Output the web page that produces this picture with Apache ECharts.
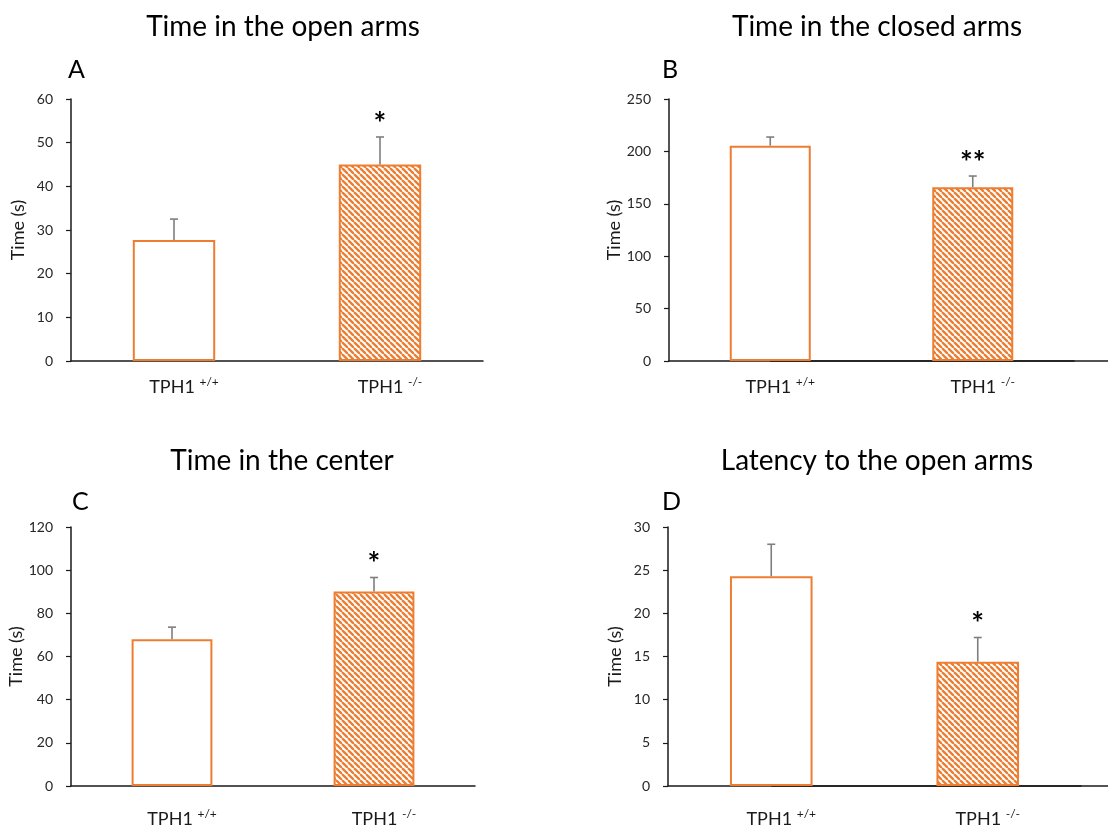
<!DOCTYPE html>
<html>
<head>
<meta charset="utf-8">
<title>Elevated plus maze</title>
<script src="https://cdn.jsdelivr.net/npm/echarts@6/dist/echarts.min.js"></script>
<style>
  html, body { margin: 0; padding: 0; background: #fff; }
  #chart { width: 1109px; height: 828px; }
</style>
</head>
<body>
<div id="chart"></div>
<script>
// Genotypes shown on every x axis
const genotypes = ['TPH1 +/+', 'TPH1 -/-'];

// Panel A: time in the open arms (s)
const openArmsMean = [27.7, 45.0];
const openArmsErr = [4.8, 6.3];
const openArmsStars = ['', '*'];

// Panel B: time in the closed arms (s)
const closedArmsMean = [205.5, 165.7];
const closedArmsErr = [8.2, 10.8];
const closedArmsStars = ['', '**'];

// Panel C: time in the center (s)
const centerMean = [68.0, 90.1];
const centerErr = [5.6, 6.5];
const centerStars = ['', '*'];

// Panel D: latency to the open arms (s)
const latencyMean = [24.3, 14.4];
const latencyErr = [3.7, 2.8];
const latencyStars = ['', '*'];

// Y axis ranges: [max, step]
const yRanges = [[60, 10], [250, 50], [120, 20], [30, 5]];
const panelTitles = ['Time in the open arms', 'Time in the closed arms', 'Time in the center', 'Latency to the open arms'];
const panelLetters = ['A', 'B', 'C', 'D'];

const ORANGE = '#ED7D31';
const FONT = 'Lato, "Open Sans", sans-serif';

// Diagonal hatch tile for the knockout bars
function hatchTile() {
  const s = 6;
  const c = document.createElement('canvas');
  c.width = s; c.height = s;
  const g = c.getContext('2d');
  g.fillStyle = '#fff';
  g.fillRect(0, 0, s, s);
  g.strokeStyle = ORANGE;
  g.lineWidth = 2.3;
  for (let k = -1; k <= 1; k++) {
    g.beginPath();
    g.moveTo(k * s, 0);
    g.lineTo(k * s + s, s);
    g.stroke();
  }
  return c;
}
const hatch = { image: hatchTile(), repeat: 'repeat' };

const panels = [
  { mean: openArmsMean, err: openArmsErr, stars: openArmsStars },
  { mean: closedArmsMean, err: closedArmsErr, stars: closedArmsStars },
  { mean: centerMean, err: centerErr, stars: centerStars },
  { mean: latencyMean, err: latencyErr, stars: latencyStars }
];

const grids = [
  { left: 71, right: 626, top: 99, bottom: 467 },
  { left: 669, right: 35, top: 99, bottom: 467 },
  { left: 71, right: 634, top: 527, bottom: 40 },
  { left: 668, right: 28, top: 527, bottom: 40 }
];
const xLabelMargin = [15, 15, 22, 22];

// Genotype name centred under the bar, allele superscript hanging to the right
function genotypeLabel(v) {
  const parts = v.split(' ');
  return '{b|' + parts[0] + ' }{s|' + parts[1] + '}';
}

const xAxes = grids.map((g, i) => ({
  type: 'category',
  gridIndex: i,
  data: genotypes,
  axisLine: { lineStyle: { color: '#1a1a1a', width: 1.5 } },
  axisTick: { show: false },
  axisLabel: {
    margin: xLabelMargin[i],
    formatter: genotypeLabel,
    rich: {
      b: { fontFamily: FONT, fontSize: 18, color: '#1a1a1a', padding: [0, 0, 0, 20] },
      s: { fontFamily: FONT, fontSize: 12, color: '#1a1a1a', padding: [0, 0, 10, 0] }
    }
  }
}));

const yAxes = grids.map((g, i) => ({
  type: 'value',
  gridIndex: i,
  min: 0,
  max: yRanges[i][0],
  interval: yRanges[i][1],
  name: 'Time (s)',
  nameLocation: 'middle',
  nameGap: 44,
  nameTextStyle: { fontFamily: FONT, fontSize: 18, color: '#1a1a1a' },
  axisLine: { show: true, lineStyle: { color: '#1a1a1a', width: 1.5 } },
  axisTick: { show: true, length: 5, lineStyle: { color: '#1a1a1a', width: 1.2 } },
  axisLabel: { margin: 18, fontFamily: FONT, fontSize: 14, color: '#262626' },
  splitLine: { show: false }
}));

const series = [];
panels.forEach((p, i) => {
  series.push({
    type: 'bar',
    xAxisIndex: i,
    yAxisIndex: i,
    barWidth: '40%',
    data: p.mean.map((v, j) => ({
      value: v,
      itemStyle: {
        color: j === 0 ? '#fff' : hatch,
        borderColor: ORANGE,
        borderWidth: 2
      }
    })),
    z: 2
  });
  series.push({
    type: 'custom',
    xAxisIndex: i,
    yAxisIndex: i,
    z: 3,
    data: p.mean.map((v, j) => [j, v, p.err[j]]),
    renderItem: function (params, api) {
      const j = api.value(0);
      const m = api.value(1);
      const e = api.value(2);
      const base = api.coord([j, m]);
      const top = api.coord([j, m + e]);
      const lineStyle = { stroke: '#7f7f7f', lineWidth: 1.6 };
      const children = [
        { type: 'line', shape: { x1: base[0], y1: base[1], x2: top[0], y2: top[1] }, style: lineStyle },
        { type: 'line', shape: { x1: top[0] - 4, y1: top[1], x2: top[0] + 4, y2: top[1] }, style: lineStyle }
      ];
      const star = p.stars[params.dataIndex];
      if (star) {
        children.push({
          type: 'text',
          x: top[0],
          y: top[1] + 2,
          style: {
            text: star,
            fontFamily: FONT,
            fontSize: 30,
            fontWeight: 'bold',
            fill: '#000',
            align: 'center',
            verticalAlign: 'bottom'
          }
        });
      }
      return { type: 'group', children: children };
    }
  });
});

// Titles and panel letters
const graphic = [];
const titlePos = [[283, 27], [877, 27], [282, 461], [877, 461]];
const letterPos = [[68, 70], [662, 70], [72, 502], [662, 502]];
panelTitles.forEach((t, i) => {
  graphic.push({
    type: 'text', x: titlePos[i][0], y: titlePos[i][1],
    style: { text: t, fontFamily: FONT, fontSize: 28, fill: '#000', align: 'center', verticalAlign: 'middle' }
  });
  graphic.push({
    type: 'text', x: letterPos[i][0], y: letterPos[i][1],
    style: { text: panelLetters[i], fontFamily: FONT, fontSize: 25, fill: '#000', align: 'left', verticalAlign: 'middle' }
  });
});

const chart = echarts.init(document.getElementById('chart'), null, { renderer: 'canvas' });
chart.setOption({
  backgroundColor: '#fff',
  animation: false,
  grid: grids,
  xAxis: xAxes,
  yAxis: yAxes,
  series: series,
  graphic: graphic
});

// Right-hand panels: the baseline runs on to the page edge
[1, 3].forEach(i => {
  const start = chart.convertToPixel({ xAxisIndex: i, yAxisIndex: i }, [0, 0]);
  graphic.push({
    type: 'line',
    shape: { x1: start[0], y1: start[1], x2: 1108, y2: start[1] },
    style: { stroke: '#1a1a1a', lineWidth: 1.5 }
  });
});
chart.setOption({ graphic: graphic });
</script>
</body>
</html>
